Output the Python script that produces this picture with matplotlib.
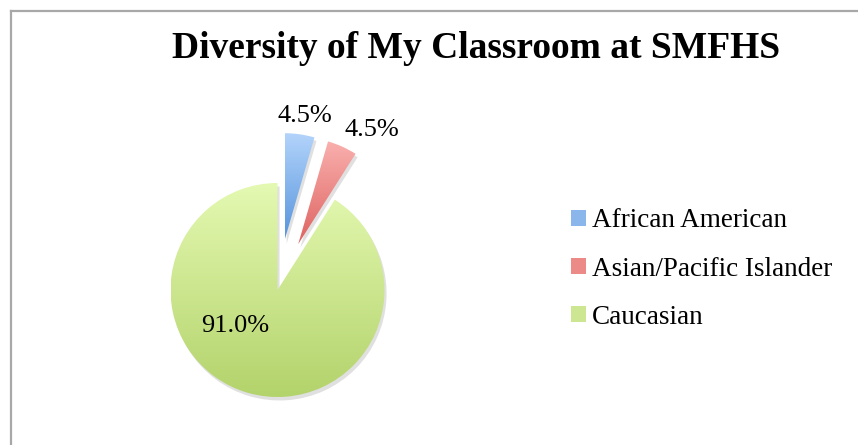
import numpy as np
import matplotlib
matplotlib.use("Agg")
import matplotlib.pyplot as plt
from matplotlib.patches import Patch
from matplotlib import patheffects as pe
from matplotlib.colors import LinearSegmentedColormap

categories = ["African American", "Asian/Pacific Islander", "Caucasian"]
values = [4.5, 4.5, 91.0]
pct_labels = ["4.5%", "4.5%", "91.0%"]

# styles / layout
top_colors = ["#b3d4fb", "#f9b0ae", "#e4f9b2"]
bot_colors = ["#5593dc", "#de6360", "#b3d36b"]
mid_colors = ["#8ab6ec", "#ec8a87", "#cde692"]
explode = [0.47, 0.47, 0.0]
label_pos = [(0.257, 1.63), (0.883, 1.50), (-0.393, -0.332)]

W, H = 858, 445
fig = plt.figure(figsize=(W / 100, H / 100), dpi=100)
fig.patch.set_facecolor("white")

# border (left + top)
fig.add_artist(plt.Line2D([10.5 / W, 10.5 / W], [0, 1 - 10.5 / H], color="#a8a8a8", lw=1.6,
                          transform=fig.transFigure))
fig.add_artist(plt.Line2D([10.5 / W, 1], [1 - 10.5 / H, 1 - 10.5 / H], color="#a8a8a8", lw=1.6,
                          transform=fig.transFigure))

R = 107.0
L = 1.8
cx, cy = 277.5, H - 290.0
side = 2 * L * R
ax = fig.add_axes([(cx - side / 2) / W, (cy - side / 2) / H, side / W, side / H])

wedges, texts, autotexts = ax.pie(values, explode=explode, startangle=90, counterclock=False,
                                  autopct="%1.1f%%", pctdistance=0.6,
                                  wedgeprops=dict(linewidth=0))
ax.set_xlim(-L, L)
ax.set_ylim(-L, L)
ax.set_aspect("equal")
ax.axis("off")

for i, w in enumerate(wedges):
    w.set_facecolor("none")
    w.set_path_effects([pe.SimplePatchShadow(offset=(1.5, -2.5), shadow_rgbFace="#999999", alpha=0.3),
                        pe.Normal()])
    bb = w.get_path().get_extents()
    cmap = LinearSegmentedColormap.from_list("g%d" % i, [bot_colors[i], top_colors[i]])
    grad = np.linspace(0, 1, 256).reshape(-1, 1)
    im = ax.imshow(grad, cmap=cmap, aspect="auto", origin="lower",
                   extent=[bb.x0, bb.x1, bb.y0, bb.y1], zorder=3)
    im.set_clip_path(w)
ax.set_xlim(-L, L)
ax.set_ylim(-L, L)

for t, txt, pos in zip(autotexts, pct_labels, label_pos):
    t.set_text(txt)
    t.set_position(pos)
    t.set_fontsize(19)
    t.set_family("Liberation Serif")
    t.set_color("black")
    t.set_zorder(5)
    t.set_ha("center")
    t.set_va("center")

fig.text(476 / W, 1 - 48 / H, "Diversity of My Classroom at SMFHS", ha="center", va="center",
         fontsize=27, fontweight="bold", family="Liberation Serif")

handles = [Patch(facecolor=c, edgecolor="none") for c in mid_colors]
fig.legend(handles, categories, loc="center left", bbox_to_anchor=(571 / W, 1 - 269 / H),
           frameon=False, prop=dict(family="Liberation Serif", size=19.5),
           handlelength=0.56, handleheight=0.56, handletextpad=0.22, labelspacing=0.85,
           borderaxespad=0, borderpad=0)

fig.savefig("out.png", dpi=100, facecolor="white")
